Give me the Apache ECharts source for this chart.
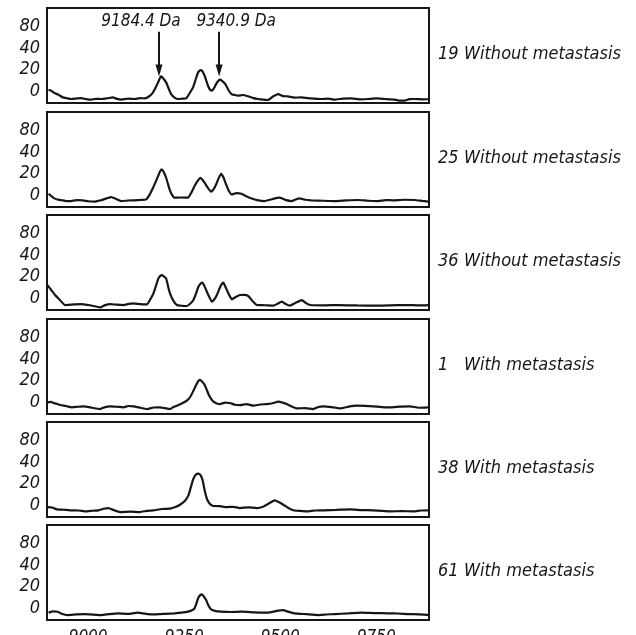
<!DOCTYPE html>
<html>
<head>
<meta charset="utf-8">
<script src="https://cdn.jsdelivr.net/npm/echarts@6/dist/echarts.min.js"></script>
<style>
  html, body { margin: 0; padding: 0; background: #fff; }
  #main { width: 636px; height: 635px; }
</style>
</head>
<body>
<div id="main"></div>
<script>
// panel order, top to bottom
var sampleIds = ['19', '25', '36', '1', '38', '61'];
var groups = ['Without metastasis', 'Without metastasis', 'Without metastasis',
              'With metastasis', 'With metastasis', 'With metastasis'];

var massTicks = [9000, 9250, 9500, 9750];
var intensityPos = [0, 20, 40, 60];
var intensityText = ['0', '20', '40', '80'];

var peakMarks = [9184.4, 9340.9];

// [m/z, intensity]
var spec19 = [[8897,1.3],[8905,0.2],[8912,-1.8],[8922,-3.2],[8934,-5.8],[8945,-6.6],[8956,-7.3],
  [8968,-6.9],[8982,-6.4],[8995,-7.4],[9008,-7.9],[9020,-7.1],[9034,-7.3],[9050,-6.6],[9064,-5.8],
  [9075,-7.2],[9086,-7.9],[9104,-7.0],[9121,-7.3],[9135,-6.5],[9147,-6.7],[9160,-4.5],[9169,-1.2],
  [9176,3.5],[9182,8.1],[9187,12.2],[9190,13.6],[9195,12.0],[9203,8.1],[9210,2.0],[9216,-2.7],
  [9225,-6.0],[9234,-7.3],[9245,-7.0],[9255,-6.7],[9264,-2.0],[9273,3.5],[9280,11.0],[9286,17.3],
  [9291,19.3],[9294,19.5],[9298,18.0],[9303,14.3],[9312,5],[9317,1.5],[9322,0.4],[9328,3.0],
  [9333,6.5],[9339,9.6],[9344,10.6],[9350,9.0],[9357,6.5],[9365,1.0],[9373,-2.7],[9381,-3.5],
  [9390,-4.2],[9403,-3.6],[9416,-4.8],[9430,-6.5],[9442,-7.3],[9455,-7.9],[9468,-8.2],[9481,-5.0],
  [9494,-2.7],[9507,-4.6],[9520,-4.8],[9537,-6.0],[9555,-5.8],[9580,-6.8],[9607,-7.3],[9625,-6.9],
  [9642,-7.9],[9663,-6.9],[9685,-6.7],[9706,-7.6],[9728,-7.3],[9750,-6.8],[9772,-7.3],[9798,-7.9],
  [9812,-8.8],[9824,-8.8],[9836,-7.4],[9850,-7.3],[9870,-7.6],[9889,-7.3]];

var spec25 = [[8897,1.3],[8905,-1.2],[8912,-3],[8922,-4.2],[8934,-4.8],[8945,-5.6],[8956,-5.5],
  [8970,-4.6],[8986,-4.8],[9000,-5.7],[9017,-6.1],[9026,-5.2],[9034,-4.8],[9048,-3.0],[9060,-1.8],
  [9073,-3.6],[9086,-5.5],[9104,-5.0],[9121,-4.8],[9137,-4.4],[9151,-3.9],[9160,0.5],[9169,6.9],
  [9176,12.5],[9182,17.6],[9187,21.8],[9191,23.8],[9196,21.9],[9203,16.1],[9212,5.3],[9218,0.5],
  [9225,-2.4],[9242,-2.2],[9260,-2.4],[9268,2.0],[9277,8.4],[9285,13.2],[9292,16.1],[9297,14.5],
  [9303,11.5],[9312,6.5],[9320,3.2],[9327,5.8],[9333,9.9],[9340,16.0],[9346,19.8],[9352,16.5],
  [9359,9.9],[9366,4.0],[9373,0.7],[9386,1.8],[9399,1.3],[9410,-0.8],[9420,-2.4],[9440,-4.6],
  [9459,-5.5],[9478,-3.8],[9498,-2.4],[9513,-4.4],[9529,-5.5],[9540,-4.0],[9550,-3],[9565,-4.3],
  [9581,-4.8],[9612,-5.2],[9642,-5.5],[9672,-4.9],[9702,-4.5],[9728,-5.2],[9754,-5.5],[9775,-4.6],
  [9793,-4.8],[9822,-4.3],[9850,-4.5],[9870,-5.4],[9889,-6.1]];

var spec36 = [[8894,12.1],[8903,8.0],[8914,2.9],[8926,-1.5],[8940,-6.4],[8958,-6.0],[8979,-5.5],
  [9005,-6.6],[9031,-8.5],[9044,-6.5],[9057,-5.5],[9075,-6.1],[9092,-6.4],[9105,-5.4],[9118,-4.8],
  [9136,-5.6],[9153,-5.8],[9162,-1.0],[9170,4.4],[9177,12.0],[9183,18.3],[9188,20.6],[9192,21.3],
  [9197,20.2],[9203,18.3],[9208,11.0],[9213,4.4],[9222,-2.5],[9231,-6.4],[9245,-7.1],[9257,-7.3],
  [9266,-5.0],[9274,-1.8],[9281,4.5],[9287,10.6],[9293,13.6],[9297,14.3],[9302,11.8],[9309,5.9],
  [9316,0.5],[9322,-3.3],[9329,-0.8],[9335,2.9],[9343,9.8],[9348,13.2],[9352,14.3],[9356,11.5],
  [9361,7.5],[9367,3.0],[9374,-1.1],[9384,1.0],[9395,2.9],[9406,3.0],[9417,1.9],[9428,-2.8],
  [9439,-6.4],[9460,-6.6],[9482,-7],[9493,-5.2],[9504,-3.3],[9514,-5.5],[9525,-7],[9540,-4.4],
  [9556,-1.8],[9566,-4.4],[9578,-6.4],[9615,-6.7],[9655,-6.4],[9700,-6.8],[9742,-7],[9785,-6.7],
  [9829,-6.4],[9860,-6.7],[9885,-6.4]];

var spec1 = [[8894,-0.2],[8902,0.3],[8910,-0.8],[8918,-1.5],[8927,-2.7],[8942,-3.6],[8958,-4.8],
  [8973,-4.3],[8988,-3.9],[9010,-5.2],[9031,-6.4],[9044,-4.6],[9057,-3.9],[9075,-4.3],[9092,-4.8],
  [9105,-3.6],[9118,-3.9],[9136,-5.2],[9153,-6.4],[9170,-5.0],[9187,-4.8],[9200,-5.6],[9213,-6.4],
  [9222,-4.5],[9231,-3.3],[9245,-1.0],[9257,1.3],[9266,5.0],[9274,10.6],[9282,16.5],[9287,19.6],
  [9290,20.7],[9295,19.6],[9302,16.7],[9308,12.0],[9313,7.5],[9320,3.0],[9326,0.4],[9335,-1.2],
  [9343,-1.8],[9356,-0.5],[9369,-0.8],[9382,-2.4],[9395,-2.7],[9412,-1.8],[9430,-3.3],[9447,-2.2],
  [9465,-1.8],[9480,-1.0],[9495,0.4],[9506,-0.5],[9517,-1.8],[9530,-4.0],[9543,-5.8],[9565,-5.5],
  [9586,-6.4],[9599,-4.5],[9612,-3.9],[9634,-4.6],[9656,-5.8],[9678,-4.2],[9699,-3.3],[9720,-3.5],
  [9742,-3.9],[9764,-4.6],[9786,-4.8],[9812,-4.2],[9838,-3.9],[9860,-5.2],[9885,-4.8]];

var spec38 = [[8894,-1.8],[8906,-2.2],[8919,-3.9],[8936,-4.3],[8953,-4.8],[8975,-5.0],[8997,-5.8],
  [9012,-5.2],[9027,-4.8],[9040,-3.4],[9053,-2.7],[9068,-4.8],[9083,-6.4],[9110,-6.0],[9135,-6.4],
  [9152,-5.3],[9170,-4.8],[9192,-3.6],[9213,-3.3],[9227,-1.8],[9239,0.4],[9251,3.5],[9261,9],
  [9268,17.5],[9274,24.5],[9280,28.2],[9287,29.2],[9293,27.6],[9298,23.0],[9303,14.0],[9309,5.9],
  [9317,1.0],[9326,-0.8],[9343,-1.0],[9361,-1.8],[9378,-1.6],[9395,-2.7],[9417,-2.0],[9439,-2.7],
  [9455,-1.5],[9469,1.3],[9478,3.2],[9486,4.4],[9496,2.8],[9508,0.4],[9520,-2.4],[9534,-4.8],
  [9552,-5.4],[9569,-5.8],[9590,-5.0],[9612,-4.8],[9646,-4.4],[9681,-3.9],[9712,-4.6],[9742,-4.8],
  [9765,-5.4],[9786,-5.8],[9816,-5.5],[9846,-5.8],[9866,-5.0],[9885,-4.8]];

var spec61 = [[8897,-4.2],[8909,-3.0],[8921,-3.3],[8933,-5.5],[8947,-6.4],[8970,-5.7],[8991,-5.5],
  [9012,-6.0],[9034,-6.4],[9055,-5.5],[9077,-4.8],[9103,-5.4],[9129,-4.2],[9150,-5.3],[9173,-5.8],
  [9200,-5.3],[9225,-4.8],[9243,-4.2],[9260,-3.3],[9270,-2.0],[9277,-0.2],[9282,4.5],[9286,9],
  [9291,11.8],[9296,12.7],[9301,10.8],[9307,7.5],[9313,2.5],[9320,-1.1],[9332,-2.8],[9346,-3.3],
  [9372,-3.6],[9399,-3.3],[9434,-3.9],[9468,-4.2],[9488,-2.8],[9507,-1.8],[9522,-3.5],[9537,-4.8],
  [9568,-5.6],[9598,-6.4],[9620,-5.9],[9642,-5.5],[9677,-4.9],[9711,-4.2],[9745,-4.6],[9780,-4.8],
  [9806,-5.0],[9833,-5.5],[9860,-5.8],[9889,-6.4]];

var spectra = [spec19, spec25, spec36, spec1, spec38, spec61];

var font = '"Liberation Sans Narrow", "DejaVu Sans Condensed", "Liberation Sans", sans-serif';
var ink = '#161616';
var tops = [8, 112, 215, 319, 422, 525];
var panelH = 95;
var labelShift = [-18, 17];

var grids = [], xAxes = [], yAxes = [], series = [], graphics = [];

spectra.forEach(function (spec, i) {
    var last = i === spectra.length - 1;
    grids.push({
        left: 47, right: 207, top: tops[i], height: panelH,
        outerBoundsMode: 'none', containLabel: false,
        show: true, borderColor: ink, borderWidth: 2, backgroundColor: 'transparent'
    });
    xAxes.push({
        type: 'value', gridIndex: i, min: 8893, max: 9887,
        axisLine: { show: false }, axisTick: { show: false }, splitLine: { show: false },
        axisLabel: {
            show: last, customValues: massTicks, margin: 9,
            fontFamily: font, fontStyle: 'italic', fontSize: 17, color: ink,
            formatter: function (v) { return String(v); }
        }
    });
    yAxes.push({
        type: 'value', gridIndex: i, min: -11, max: 77,
        axisLine: { show: false }, axisTick: { show: false }, splitLine: { show: false },
        axisLabel: {
            customValues: intensityPos, margin: 7,
            fontFamily: font, fontStyle: 'italic', fontSize: 18, color: ink,
            formatter: function (v) { return intensityText[intensityPos.indexOf(v)]; }
        }
    });
    var s = {
        type: 'line', xAxisIndex: i, yAxisIndex: i, data: spec,
        showSymbol: false, smooth: 0.15, silent: true,
        lineStyle: { color: ink, width: 2.2 }
    };
    if (i === 0) {
        s.markLine = {
            silent: true, symbol: ['none', 'triangle'], symbolSize: [7, 12],
            lineStyle: { color: ink, width: 2, type: 'solid' },
            label: {
                show: true, position: 'start', distance: 2,
                fontFamily: font, fontStyle: 'italic', fontSize: 17, color: ink,
                formatter: function (p) { return p.data.name; }
            },
            data: peakMarks.map(function (m, k) {
                return [{ coord: [m, 55], name: m.toFixed(1) + ' Da',
                          label: { offset: [labelShift[k], 0] } },
                        { coord: [m, 19] }];
            })
        };
    }
    series.push(s);

    var cy = tops[i] + panelH / 2;
    graphics.push({
        type: 'text', left: 438, top: cy - 10,
        style: { text: sampleIds[i], fontFamily: font, fontStyle: 'italic', fontSize: 18, fill: ink }
    });
    graphics.push({
        type: 'text', left: 464, top: cy - 10,
        style: { text: groups[i], fontFamily: font, fontStyle: 'italic', fontSize: 18, fill: ink }
    });
});

var myChart = echarts.init(document.getElementById('main'));
myChart.setOption({
    backgroundColor: '#fff',
    animation: false,
    grid: grids,
    xAxis: xAxes,
    yAxis: yAxes,
    series: series,
    graphic: graphics
});
</script>
</body>
</html>
